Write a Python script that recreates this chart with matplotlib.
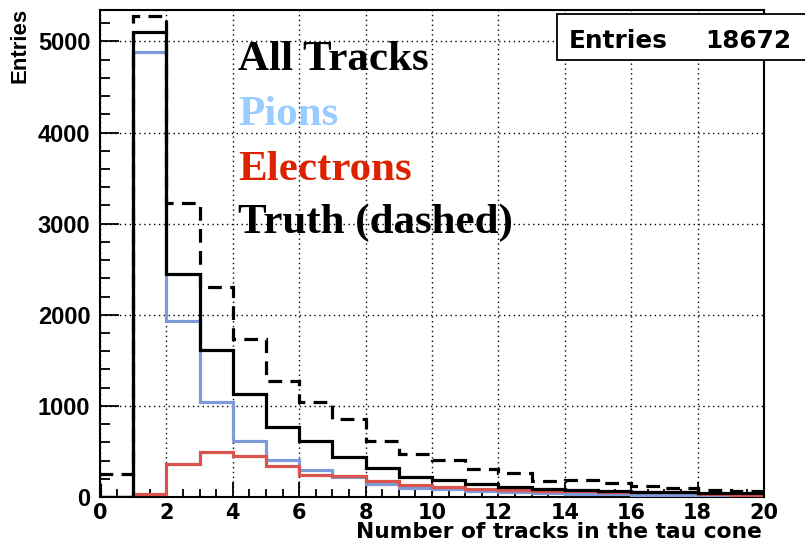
import numpy as np
import matplotlib
matplotlib.use("Agg")
import matplotlib.pyplot as plt
from matplotlib.patches import Rectangle
from matplotlib.ticker import MultipleLocator

# bin edges: one bin per track count, 0..20
edges = np.arange(0, 21)

all_tracks = [0, 5100, 2450, 1615, 1128, 763, 610, 440, 314, 218, 182, 138,
              108, 90, 75, 65, 55, 50, 45, 40]
pions = [0, 4880, 1930, 1048, 617, 409, 296, 215, 142, 102, 88, 69,
         52, 40, 38, 35, 20, 18, 15, 12]
electrons = [0, 30, 358, 490, 446, 343, 241, 227, 177, 128, 112, 90,
             78, 64, 66, 60, 55, 50, 30, 25]
truth = [255, 5280, 3228, 2303, 1738, 1274, 1048, 854, 620, 471, 407, 309,
         261, 175, 188, 155, 120, 100, 75, 62]

n_entries = 18672

fig = plt.figure(figsize=(8.05, 5.46), dpi=100)
ax = fig.add_axes([100 / 805, 49 / 546, 664 / 805, 487 / 546])

lw = 2.3
ax.stairs(pions, edges, color="#7d9bd8", lw=lw, zorder=3)
ax.stairs(electrons, edges, color="#d9534f", lw=lw, zorder=4)
ax.stairs(all_tracks, edges, color="black", lw=lw, zorder=5)
ax.stairs(truth, edges, color="black", lw=lw, ls=(0, (4.3, 2.6)), zorder=6)

ax.set_xlim(0, 20)
ax.set_ylim(0, 5345)

ax.xaxis.set_major_locator(MultipleLocator(2))
ax.xaxis.set_minor_locator(MultipleLocator(0.5))
ax.yaxis.set_major_locator(MultipleLocator(1000))
ax.yaxis.set_minor_locator(MultipleLocator(200))
ax.tick_params(which="both", direction="in", width=1.3, top=False, right=False)
ax.tick_params(axis="y", which="major", length=14, pad=7)
ax.tick_params(axis="y", which="minor", length=7)
ax.tick_params(axis="x", which="major", length=11, pad=4)
ax.tick_params(axis="x", which="minor", length=5.5)

for lab in ax.get_yticklabels():
    lab.set_fontfamily("Liberation Sans")
    lab.set_fontweight("bold")
    lab.set_fontsize(17)
for lab in ax.get_xticklabels():
    lab.set_fontfamily("DejaVu Sans")
    lab.set_fontweight("bold")
    lab.set_fontsize(15)

ax.grid(True, which="major", color="black", ls=(0, (1, 2.5)), lw=1.0, zorder=1)
for s in ax.spines.values():
    s.set_linewidth(1.5)

# axis titles
fig.text(762 / 805, 1 - 538 / 546, "Number of tracks in the tau cone",
         ha="right", va="baseline", fontfamily="DejaVu Sans",
         fontweight="bold", fontsize=15.7)
fig.text(20 / 805, 1 - 8 / 546, "Entries", rotation=90, ha="center", va="top",
         fontfamily="Liberation Sans", fontweight="bold", fontsize=16)

# legend written as coloured text
serif = dict(fontfamily="Liberation Serif", fontweight="bold", fontsize=31)
labels = [("All Tracks", "black", 70), ("Pions", "#99ccff", 125),
          ("Electrons", "#dd2200", 180), ("Truth (dashed)", "black", 233)]
for text, col, ybase in labels:
    fig.text(238 / 805, 1 - ybase / 546, text, color=col, ha="left",
             va="baseline", zorder=10, **serif)

# statistics box
fig.patches.append(Rectangle((557 / 805, 1 - 60 / 546), 250 / 805, 46 / 546,
                             transform=fig.transFigure, facecolor="white",
                             edgecolor="black", lw=1.3, zorder=10))
stat = dict(va="baseline", fontfamily="DejaVu Sans", fontweight="bold",
            fontsize=17.8, zorder=11)
fig.text(569 / 805, 1 - 48 / 546, "Entries", ha="left", **stat)
fig.text(791 / 805, 1 - 48 / 546, str(n_entries), ha="right", **stat)

fig.savefig("out.png", dpi=100)
